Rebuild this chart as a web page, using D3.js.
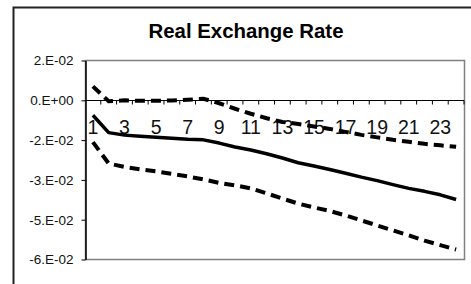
<!DOCTYPE html>
<html>
<head>
<meta charset="utf-8">
<script src="https://cdn.jsdelivr.net/npm/d3@7"></script>
<style>
  html, body { margin: 0; padding: 0; background: #fff; }
  svg { display: block; font-family: Arial, "Liberation Sans", sans-serif; }
</style>
</head>
<body>
<div id="chart"></div>
<script>
// periods 1..24
const periods = d3.range(1, 25);
const xLabels = periods.filter(d => d % 2 === 1);

// point estimate and the two bands
const mean = [-0.0062, -0.0132, -0.0142, -0.0147, -0.0151, -0.0155, -0.0159, -0.0161,
              -0.0174, -0.0190, -0.0202, -0.0217, -0.0234, -0.0253, -0.0266, -0.0280,
              -0.0295, -0.0311, -0.0325, -0.0341, -0.0356, -0.0368, -0.0382, -0.0401];
const upper = [0.0054, -0.0006, -0.0002, -0.0004, -0.0004, -0.0003, 0.0000, 0.0004,
               -0.0014, -0.0036, -0.0056, -0.0074, -0.0089, -0.0097, -0.0107, -0.0117,
               -0.0129, -0.0141, -0.0151, -0.0161, -0.0169, -0.0177, -0.0183, -0.0189];
const lower = [-0.0170, -0.0256, -0.0270, -0.0280, -0.0288, -0.0298, -0.0308, -0.0320,
               -0.0334, -0.0344, -0.0356, -0.0376, -0.0397, -0.0417, -0.0433, -0.0447,
               -0.0465, -0.0485, -0.0505, -0.0525, -0.0545, -0.0566, -0.0584, -0.0602];

// excel ticks every 0.016, shown with "0.E+00" format
const yTicks = [0.016, 0, -0.016, -0.032, -0.048, -0.064];
const yTickLabels = ["2.E-02", "0.E+00", "-2.E-02", "-3.E-02", "-5.E-02", "-6.E-02"];

const W = 471, H = 284;
const plot = {left: 85, right: 464, top: 60, bottom: 259};

const svg = d3.select('#chart').append('svg')
    .attr('width', W)
    .attr('height', H);

// outer chart frame (cropped at right/bottom)
svg.append('path')
    .attr('d', `M13.5,${H + 5} L13.5,7.5 L${W + 5},7.5`)
    .attr('fill', 'none')
    .attr('stroke', '#222')
    .attr('stroke-width', 2);

svg.append('text')
    .attr('x', 246)
    .attr('y', 38)
    .attr('text-anchor', 'middle')
    .attr('font-size', 19.5)
    .attr('font-weight', 'bold')
    .attr('textLength', 195)
    .attr('lengthAdjust', 'spacingAndGlyphs')
    .text('Real Exchange Rate');

const x = d3.scaleBand()
    .domain(periods)
    .range([plot.left, plot.right]);

const y = d3.scaleLinear()
    .domain([-0.064, 0.016])
    .range([plot.bottom, plot.top]);

// plot area border
svg.append('rect')
    .attr('x', plot.left + 0.5)
    .attr('y', plot.top + 0.5)
    .attr('width', plot.right - plot.left)
    .attr('height', plot.bottom - plot.top)
    .attr('fill', 'none')
    .attr('stroke', '#808080')
    .attr('stroke-width', 1.5);

// y axis
const yAxis = d3.axisLeft(y)
    .tickValues(yTicks)
    .tickFormat((d, i) => yTickLabels[i])
    .tickSizeInner(4)
    .tickSizeOuter(0)
    .tickPadding(8);

const gy = svg.append('g')
    .attr('transform', `translate(${plot.left + 0.5},0.5)`)
    .call(yAxis);
gy.select('.domain').attr('stroke', '#000').attr('stroke-width', 1.5);
gy.selectAll('.tick line').attr('stroke', '#000');
gy.selectAll('.tick text')
    .attr('font-size', 13.5)
    .attr('font-family', 'Arial, "Liberation Sans", sans-serif')
    .attr('fill', '#111');

// category axis sits on zero, ticks at category boundaries
const zeroY = Math.round(y(0)) + 0.5;
const gx = svg.append('g')
    .attr('transform', `translate(0,${zeroY})`);
gx.append('line')
    .attr('x1', plot.left)
    .attr('x2', plot.right)
    .attr('stroke', '#000')
    .attr('stroke-width', 1.2);
gx.selectAll('line.tk')
    .data(periods.slice(1).concat([25]))
    .join('line')
    .attr('class', 'tk')
    .attr('x1', d => d <= 24 ? x(d) : plot.right)
    .attr('x2', d => d <= 24 ? x(d) : plot.right)
    .attr('y1', 0)
    .attr('y2', 4)
    .attr('stroke', '#000');

svg.append('g')
    .selectAll('text')
    .data(xLabels)
    .join('text')
    .attr('x', d => x(d) + x.bandwidth() / 2)
    .attr('y', 134)
    .attr('text-anchor', 'middle')
    .attr('font-size', 19.5)
    .attr('fill', '#111')
    .text(d => d);

const line = d3.line()
    .x((d, i) => x(periods[i]) + x.bandwidth() / 2)
    .y(d => y(d));

svg.append('path')
    .datum(upper)
    .attr('d', line)
    .attr('fill', 'none')
    .attr('stroke', '#000')
    .attr('stroke-width', 4)
    .attr('stroke-dasharray', '10,6');

svg.append('path')
    .datum(lower)
    .attr('d', line)
    .attr('fill', 'none')
    .attr('stroke', '#000')
    .attr('stroke-width', 4)
    .attr('stroke-dasharray', '10,6');

svg.append('path')
    .datum(mean)
    .attr('d', line)
    .attr('fill', 'none')
    .attr('stroke', '#000')
    .attr('stroke-width', 3.5)
    .attr('stroke-linejoin', 'round');
</script>
</body>
</html>
